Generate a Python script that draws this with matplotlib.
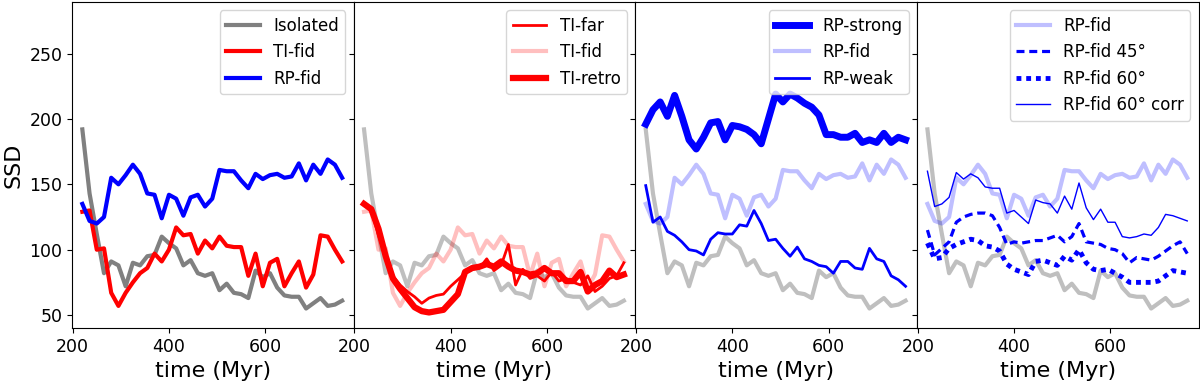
import numpy as np
import matplotlib
matplotlib.use("Agg")
import matplotlib.pyplot as plt

# time axis (Myr)
time = [220 + 15 * i for i in range(37)]

isolated = [192, 143, 112, 82, 91, 88, 72, 90, 88, 95, 96, 110, 105, 101, 88, 92, 82, 80, 82,
            69, 74, 67, 66, 63, 84, 79, 82, 71, 65, 64, 64, 55, 59, 63, 57, 58, 61]
ti_fid = [129, 130, 100, 101, 67, 57, 67, 75, 82, 86, 97, 91, 100, 117, 111, 112, 97, 107, 101,
          110, 103, 102, 102, 80, 97, 72, 90, 93, 72, 82, 91, 71, 81, 111, 110, 100, 91]
rp_fid = [135, 122, 120, 125, 155, 150, 157, 165, 158, 143, 142, 124, 142, 139, 126, 140, 142, 133,
          139, 161, 160, 160, 153, 147, 158, 154, 157, 158, 155, 156, 166, 153, 165, 158, 169, 165, 155]
ti_far = [134, 130, 111, 94, 80, 73, 68, 64, 59, 63, 65, 66, 72, 77, 82, 85, 86, 93, 84, 88, 104,
          73, 85, 78, 80, 76, 83, 76, 78, 75, 73, 80, 68, 72, 78, 80, 90]
ti_retro = [135, 131, 116, 95, 78, 70, 63, 56, 53, 52, 53, 54, 60, 66, 83, 86, 87, 89, 87, 91, 87,
            84, 83, 81, 82, 86, 82, 82, 76, 76, 83, 68, 73, 76, 84, 79, 81]
rp_strong = [196, 207, 213, 202, 218, 202, 184, 177, 186, 197, 198, 184, 195, 194, 192, 188, 181,
             200, 219, 213, 219, 216, 212, 209, 203, 188, 188, 186, 186, 189, 182, 184, 182, 189,
             182, 186, 184]
rp_weak = [149, 121, 125, 114, 111, 106, 100, 99, 96, 108, 113, 112, 112, 119, 118, 130, 120, 107,
           108, 101, 95, 102, 93, 91, 88, 87, 82, 91, 91, 86, 85, 101, 93, 91, 80, 77, 72]
rp_fid45 = [115, 96, 101, 106, 121, 125, 127, 128, 128, 126, 117, 104, 106, 105, 106, 107, 107, 109,
            111, 106, 110, 120, 106, 105, 104, 101, 100, 97, 90, 94, 93, 92, 95, 99, 103, 106, 97]
rp_fid60 = [105, 93, 94, 101, 104, 106, 108, 107, 103, 102, 99, 89, 85, 83, 81, 91, 92, 90, 88, 95,
            92, 100, 90, 85, 84, 85, 82, 79, 75, 75, 75, 75, 76, 80, 84, 83, 82]
rp_fid60c = [160, 133, 135, 140, 159, 154, 158, 155, 148, 147, 147, 128, 130, 125, 120, 138, 136,
             135, 128, 141, 131, 151, 132, 123, 131, 121, 121, 110, 109, 110, 112, 111, 117, 127,
             126, 124, 122]

xticks = [200, 400, 600]
yticks = [50, 100, 150, 200, 250]

fig, axes = plt.subplots(1, 4, figsize=(12, 3.82), dpi=100, sharey=True)
fig.subplots_adjust(left=0.06, right=0.999, bottom=0.141, top=0.995, wspace=0)

ax = axes[0]
ax.plot(time, isolated, color="gray", lw=3, label="Isolated")
ax.plot(time, ti_fid, color="red", lw=3, label="TI-fid")
ax.plot(time, rp_fid, color="blue", lw=3, label="RP-fid")

ax = axes[1]
ax.plot(time, isolated, color="gray", lw=3, alpha=0.5)
ax.plot(time, ti_far, color="red", lw=2, label="TI-far")
ax.plot(time, ti_fid, color="red", lw=3, alpha=0.25, label="TI-fid")
ax.plot(time, ti_retro, color="red", lw=4.5, label="TI-retro")

ax = axes[2]
ax.plot(time, isolated, color="gray", lw=3, alpha=0.5)
ax.plot(time, rp_strong, color="blue", lw=5, label="RP-strong")
ax.plot(time, rp_fid, color="blue", lw=3, alpha=0.25, label="RP-fid")
ax.plot(time, rp_weak, color="blue", lw=2, label="RP-weak")

ax = axes[3]
ax.plot(time, isolated, color="gray", lw=3, alpha=0.5)
ax.plot(time, rp_fid, color="blue", lw=3, alpha=0.25, label="RP-fid")
ax.plot(time, rp_fid45, color="blue", lw=2.3, dashes=(2.5, 1.5), label="RP-fid 45°")
ax.plot(time, rp_fid60, color="blue", lw=3.5, dashes=(1, 1), label="RP-fid 60°")
ax.plot(time, rp_fid60c, color="blue", lw=1, label="RP-fid 60° corr")

for ax in axes:
    ax.set_xticks(xticks)
    ax.set_yticks(yticks)
    ax.set_xlim(198.5, 784)
    ax.set_ylim(40, 289.5)
    ax.tick_params(labelsize=12.5)
    ax.set_xlabel("time (Myr)", fontsize=16)
    ax.legend(loc="upper right", fontsize=12)
axes[0].set_ylabel("SSD", fontsize=16)

fig.savefig("out.png", dpi=100)
